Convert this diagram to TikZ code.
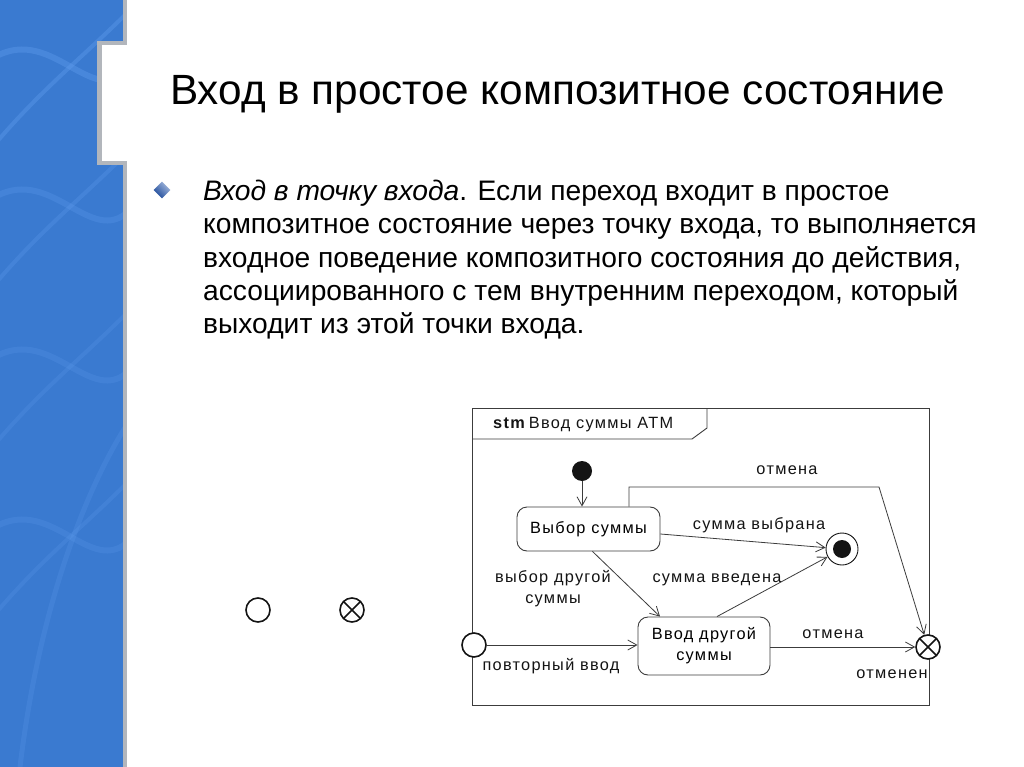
\documentclass[tikz,border=0pt]{standalone}
\usepackage{fontspec}
\setmainfont{Liberation Sans}
\usetikzlibrary{arrows.meta,positioning,shapes.geometric}
\definecolor{band}{RGB}{58,122,208}
\definecolor{streak}{RGB}{100,160,240}
\definecolor{rim}{RGB}{178,182,188}
\definecolor{ink}{RGB}{20,20,20}
\definecolor{wire}{RGB}{60,60,60}
\definecolor{gem}{RGB}{30,80,170}
\newcommand{\diagfont}{\fontsize{16.3}{21}\selectfont\addfontfeatures{LetterSpace=8}}
\tikzset{
  >={Straight Barb[length=9pt,width=10pt]},
  stbox/.style={draw=wire,line width=0.9pt,rounded corners=10pt,fill=white,
    minimum width=#1,minimum height=44pt,align=center,font=\diagfont},
  stbox/.default=143pt,
  initst/.style={circle,fill=ink,minimum size=20pt,inner sep=0pt},
  finalst/.style={circle,draw=ink,line width=0.9pt,minimum size=32pt,inner sep=0pt,
    path picture={\fill[ink] (path picture bounding box.center) circle (9pt);}},
  entrypt/.style={circle,draw=ink,line width=1.6pt,fill=white,minimum size=24pt,inner sep=0pt},
  exitpt/.style={entrypt,
    path picture={\draw[ink,line width=1.6pt] (path picture bounding box.north west) -- (path picture bounding box.south east)
      (path picture bounding box.north east) -- (path picture bounding box.south west);}},
  flow/.style={->,draw=wire,line width=0.8pt},
  tag/.style={font=\diagfont,text=ink,align=center,inner sep=1pt},
}

\begin{document}
\begin{tikzpicture}[x=1pt,y=-1pt]
  \useasboundingbox (0,0) rectangle (1024,767);
  \fill[white] (0,0) rectangle (1024,767);
  % blue side band
  \fill[band] (0,0) rectangle (123,767);
  \begin{scope}
    \clip (0,0) rectangle (123,767);
    \foreach \dy/\op in {0/0.35,140/0.25,300/0.2,470/0.2} {
      \draw[streak,line width=6pt,opacity=\op] (-10,60+\dy) .. controls (50,20+\dy) and (90,110+\dy) .. (130,70+\dy);
      \draw[streak,line width=4pt,opacity=\op] (-10,150+\dy) .. controls (40,90+\dy) and (80,60+\dy) .. (130,10+\dy);
    }
    \draw[streak,line width=5pt,opacity=0.2] (20,767) .. controls (40,600) and (90,480) .. (130,420);
  \end{scope}
  \fill[rim] (123,0) rectangle (127,767);
  \fill[rim] (97,41) rectangle (127,165);
  \fill[white] (102,45) rectangle (127,161);

  % title and text
  \node[anchor=base west,inner sep=0pt,font=\fontsize{42.3}{50}\selectfont] (title) at (170,105)
    {Вход в простое композитное состояние};
  \node[diamond,minimum size=17pt,inner sep=0pt,top color=gem!40!white,bottom color=gem!90!black,shading angle=-45] (dot) at (162,190) {};
  \node[anchor=north west,inner sep=0pt,align=left,font=\fontsize{28.2}{33.2}\selectfont] (body) at (203,180)
    {\textit{Вход в точку входа}. Если переход входит в простое\\
     композитное состояние через точку входа, то выполняется\\
     входное поведение композитного состояния до действия,\\
     ассоциированного с тем внутренним переходом, который\\
     выходит из этой точки входа.};

  % legend pseudostates
  \node[entrypt] (entryicon) at (258,610) {};
  \node[exitpt] (exiticon) at (352,610) {};

  % state machine frame
  \draw[wire,line width=0.9pt] (472,408) rectangle (929,705);
  \draw[wire,line width=0.9pt] (472,439) -- (692,439) -- (707,428) -- (707,408);
  \node[tag,anchor=base west] (frame name) at (492,428) {\textbf{stm}\,Ввод суммы АТМ};

  % states
  \node[initst] (init) at (582,471) {};
  \node[stbox] (vybor) at (588.5,529) {Выбор суммы};
  \node[stbox=132pt,minimum height=58pt] (vvod) at (704,646) {Ввод другой\\суммы};
  \node[finalst] (fin) at (842,549) {};
  \node[entrypt] (entry) at (474,645) {};
  \node[exitpt] (exit) at (928,647) {};
  \coordinate (corner) at (879,487);

  % transitions
  \draw[flow] (init) -- (init |- vybor.north);
  \draw[flow] ([yshift=-5pt]vybor.east) -- (fin);
  \draw[flow] ([xshift=4pt]vybor.south) -- ([xshift=-44pt]vvod.north);
  \draw[flow] ([xshift=13pt]vvod.north) -- (fin);
  \draw[flow] (entry) -- (entry -| vvod.west);
  \draw[flow] (vvod.east |- exit) -- (exit);
  \draw[flow] ([xshift=40.5pt]vybor.north) |- (corner) -- (exit);

  % labels
  \node[tag] (t cancel top) at (787,470) {отмена};
  \node[tag] (t chosen) at (759,525) {сумма выбрана};
  \node[tag] (t other) at (553,589) {выбор другой\\суммы};
  \node[tag] (t entered) at (717,580) {сумма введена};
  \node[tag] (t repeat) at (551,666) {повторный ввод};
  \node[tag] (t cancel) at (833,634) {отмена};
  \node[tag] (t cancelled) at (892,674) {отменен};
\end{tikzpicture}
\end{document}
